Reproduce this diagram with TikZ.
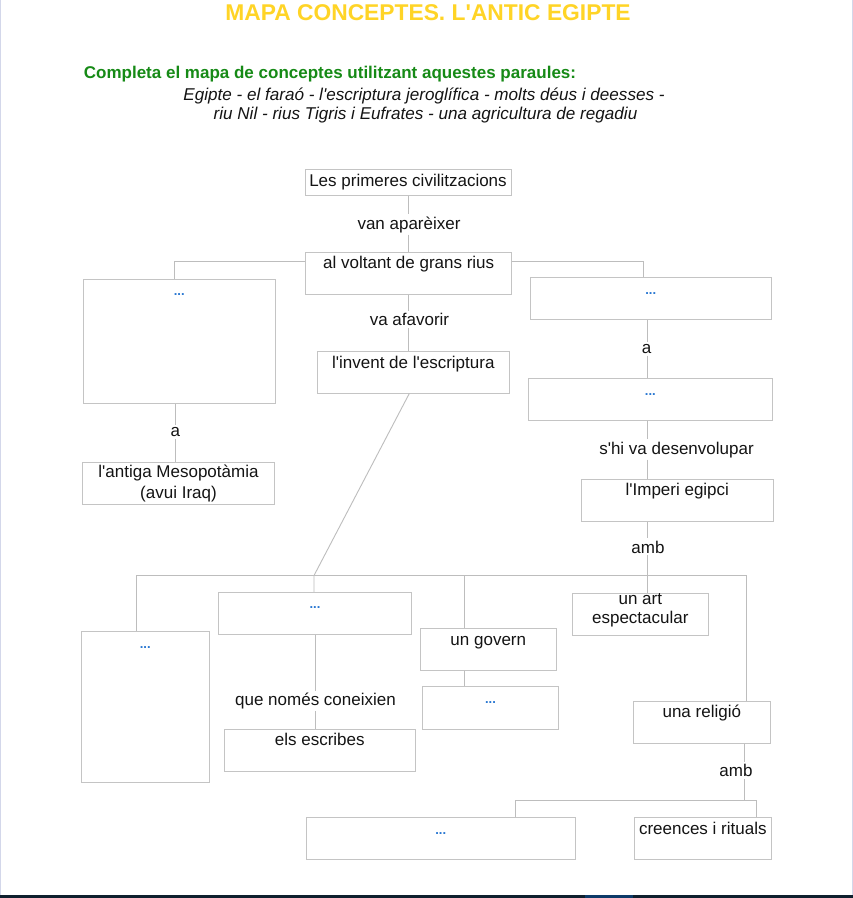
\documentclass[tikz,border=0pt]{standalone}
\usepackage{fontspec}
\setmainfont{Liberation Sans}
\usetikzlibrary{calc}
\definecolor{boxc}{HTML}{C4C4C4}
\definecolor{linec}{HTML}{BDBDBD}
\definecolor{txtc}{HTML}{141414}
\definecolor{dotc}{HTML}{2A78D2}
\definecolor{titc}{HTML}{FFD426}
\definecolor{grn}{HTML}{168A16}
\definecolor{edgec}{HTML}{D3D7EA}
\definecolor{barc}{HTML}{0F1F2D}
\definecolor{barb}{HTML}{0D3A68}
\newcommand{\qsq}{\textquotesingle}
\begin{document}
\begin{tikzpicture}[x=1pt,y=-1pt,
 box/.style={draw=boxc, line width=0.9pt, inner sep=0pt, minimum height=0pt, text=txtc, font=\fontsize{17}{20}\selectfont},
 dotbox/.style={box, text=dotc, font=\fontsize{13}{16}\selectfont\bfseries},
 lbl/.style={inner sep=2pt, text=txtc, font=\fontsize{17}{20}\selectfont, anchor=base},
 conn/.style={draw=linec, line width=0.9pt},
 head/.style={inner sep=0pt, anchor=base}]
\useasboundingbox (0,0) rectangle (853,898);
\fill[white] (0,0) rectangle (853,898);
\fill[edgec] (0,0) rectangle (1.3,895);
\fill[edgec] (851.7,0) rectangle (853,895);
\fill[barc] (0,895) rectangle (853,898);
\fill[barb] (585,895) rectangle (632.7,898);

% headings
\node[head, font=\fontsize{22.8}{26}\selectfont\bfseries, text=titc] (title) at (428,20) {MAPA CONCEPTES. L\qsq ANTIC EGIPTE};
\node[head, font=\fontsize{17}{20}\selectfont\bfseries, text=grn] (instr) at (330,78.3) {Completa el mapa de conceptes utilitzant aquestes paraules:};
\node[head, font=\fontsize{17.1}{20}\selectfont\itshape, text=txtc] (words1) at (424,100.7) {Egipte - el faraó - l\qsq escriptura jeroglífica - molts déus i deesses -};
\node[head, font=\fontsize{17.1}{20}\selectfont\itshape, text=txtc] (words2) at (425.5,119.3) {riu Nil - rius Tigris i Eufrates - una agricultura de regadiu};

% boxes
\node[box, minimum width=206pt, text height=17.4pt, text depth=8.6pt] (prim) at (408,182.3) {Les primeres civilitzacions};
\node[box, minimum width=206pt, text height=16pt, text depth=26pt] (voltant) at (408.7,273.3) {al voltant de grans rius};
\node[dotbox, minimum width=192pt, text height=16.2pt, text depth=108.2pt] (leftA) at (179.3,341.5) {...};
\node[box, minimum width=191.6pt, minimum height=42.4pt, align=center, font=\fontsize{17}{20.3}\selectfont] (meso) at (178.5,483.5) {l\qsq antiga Mesopotàmia\\(avui Iraq)};
\node[box, minimum width=192pt, text height=17pt, text depth=24.7pt] (invent) at (413.3,372.2) {l\qsq invent de l\qsq escriptura};
\node[dotbox, minimum width=240.7pt, text height=16.8pt, text depth=25.2pt] (rightA) at (650.7,298.7) {...};
\node[dotbox, minimum width=243.3pt, text height=16.8pt, text depth=24.8pt] (rightB) at (650.3,399.5) {...};
\node[box, minimum width=192pt, text height=15.7pt, text depth=26.7pt] (imperi) at (677.3,500.5) {l\qsq Imperi egipci};
\node[dotbox, minimum width=128pt, text height=17.2pt, text depth=133.8pt] (bigleft) at (145.3,706.8) {...};
\node[dotbox, minimum width=193.4pt, text height=16.2pt, text depth=25.5pt] (midA) at (315,613.2) {...};
\node[box, minimum width=191pt, text height=16pt, text depth=26pt] (escribes) at (319.8,750.3) {els escribes};
\node[box, minimum width=136pt, text height=16.3pt, text depth=25.3pt] (govern) at (488.3,649.5) {un govern};
\node[dotbox, minimum width=136.4pt, text height=16.8pt, text depth=25.5pt] (govB) at (490.5,707.8) {...};
\node[box, minimum width=136pt, minimum height=42pt, align=center, font=\fontsize{17}{19}\selectfont] (art) at (640.3,614.3) {un art\\espectacular\rule[-12pt]{0pt}{12pt}};
\node[box, minimum width=137pt, text height=16.3pt, text depth=26pt] (religio) at (701.8,722.1) {una religió};
\node[dotbox, minimum width=269pt, text height=16.3pt, text depth=25.3pt] (botA) at (440.8,838.5) {...};
\node[box, minimum width=136.3pt, text height=16.3pt, text depth=25.3pt] (creences) at (702.8,838.5) {creences i rituals};

% labels
\node[lbl] (lvan) at (409,229) {van aparèixer};
\node[lbl] (lafav) at (409.5,325.7) {va afavorir};
\node[lbl] (la1) at (175.3,436.7) {a};
\node[lbl] (la2) at (646.5,353.3) {a};
\node[lbl] (ldes) at (676.5,454) {s\qsq hi va desenvolupar};
\node[lbl] (lamb1) at (648,553) {amb};
\node[lbl] (lque) at (315.5,705.7) {que només coneixien};
\node[lbl] (lamb2) at (736,776.7) {amb};

% coordinates
\coordinate (busL) at (136.7,575.5);
\coordinate (busR) at (746.7,575.5);
\coordinate (busD) at (314,575.5);
\coordinate (busG) at (464.8,575.5);
\coordinate (xR) at (647.7,0);
\coordinate (xA) at (744.3,0);
\coordinate (botL) at (515,800.7);
\coordinate (botR) at (756.7,800.7);

% connectors
\draw[conn] (prim.south) -- (lvan.north -| prim.south);
\draw[conn] (lvan.south -| prim.south) -- (voltant.north -| prim.south);
\draw[conn] ($(voltant.north west)+(0,9.4)$) -| ($(leftA.north)+(-5,0)$);
\draw[conn] ($(voltant.north east)+(0,9.4)$) -| ($(rightA.north)+(-7.7,0)$);
\draw[conn] (voltant.south) -- (lafav.north -| voltant.south);
\draw[conn] (lafav.south -| voltant.south) -- (invent.north -| voltant.south);
\draw[conn] (leftA.south -| la1) -- (la1.north);
\draw[conn] (la1.south) -- (meso.north -| la1);
\draw[conn] (rightA.south -| xR) -- (la2.north -| xR);
\draw[conn] (la2.south -| xR) -- (rightB.north -| xR);
\draw[conn] (rightB.south -| xR) -- (ldes.north -| xR);
\draw[conn] (ldes.south -| xR) -- (imperi.north -| xR);
\draw[conn] (imperi.south -| xR) -- (lamb1.north -| xR);
\draw[conn] (lamb1.south -| xR) -- (art.north -| xR);
\draw[conn] ($(invent.south)+(-4,0)$) -- (busD) -- (midA.north -| busD);
\draw[conn] (bigleft.north -| busL) -- (busL) -- (busR) -- (religio.north -| busR);
\draw[conn] (busG) -- (govern.north -| busG);
\draw[conn] (govern.south -| busG) -- (govB.north -| busG);
\draw[conn] (midA.south -| lque) -- (lque.north);
\draw[conn] (lque.south) -- (escribes.north -| lque);
\draw[conn] (religio.south -| xA) -- (lamb2.north -| xA);
\draw[conn] (lamb2.south -| xA) -- (xA |- botR);
\draw[conn] (botA.north -| botL) -- (botL) -- (botR) -- (creences.north -| botR);
\end{tikzpicture}
\end{document}
